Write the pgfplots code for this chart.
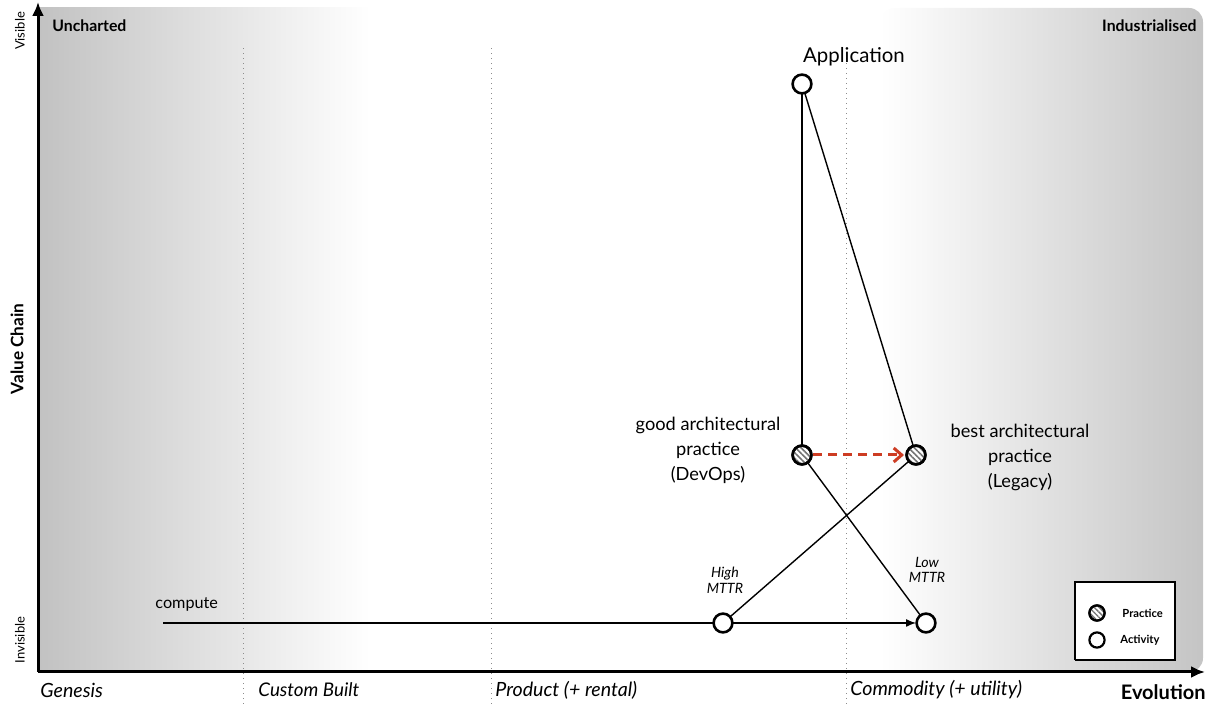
\documentclass[border=0pt]{standalone}
\usepackage{pgfplots}
\pgfplotsset{compat=1.18}
\usepackage{fontspec}
\setmainfont{Lato}
\usetikzlibrary{patterns.meta,arrows.meta}
\definecolor{redc}{RGB}{205,60,35}
\begin{document}
\begin{tikzpicture}
\begin{axis}[
  scale only axis, width=583.5pt, height=335pt,
  xmin=38, xmax=1205, ymin=32, ymax=702,
  axis lines=left,
  axis line style={line width=1.5pt,-{Latex[length=7pt,width=6pt]}},
  xtick=\empty, ytick=\empty, clip=false, axis on top,
]
\path (axis cs:0,0) rectangle (axis cs:1209,704);
% background gradients
\addplot[draw=none, left color=black!24, right color=white, forget plot]
  coordinates {(38,32) (370,32) (370,696) (38,696)};
\addplot[draw=none, left color=white, right color=black!23, rounded corners=7pt, forget plot]
  coordinates {(880,32) (1203,32) (1203,696) (880,696) (880,32)};
% dotted stage separators
\addplot[black!45, dotted, line width=0.5pt, forget plot] coordinates {(243,0) (243,659)};
\addplot[black!45, dotted, line width=0.5pt, forget plot] coordinates {(491,0) (491,659)};
\addplot[black!45, dotted, line width=0.5pt, forget plot] coordinates {(846,0) (846,659)};
% links
\addplot[black, line width=0.7pt] coordinates {(802,620) (802,249)};
\addplot[black, line width=0.7pt] coordinates {(802,620) (916,249)};
\addplot[black, line width=0.7pt] coordinates {(802,249) (926,81)};
\addplot[black, line width=0.7pt] coordinates {(916,249) (723,81)};
\addplot[black, line width=0.7pt, -{Latex[length=5pt,width=4pt]}] coordinates {(163,81) (916,81)};
% red dashed movement
\addplot[redc, line width=1.5pt, dash pattern=on 4.5pt off 3pt, -{Straight Barb[length=4pt,width=7pt]}] coordinates {(813,249) (904,249)};
% legend box
\addplot[fill=white, draw=black, line width=0.7pt] coordinates {(1075,44) (1175,44) (1175,122) (1075,122) (1075,44)};
% activities
\addplot[only marks, mark=*, mark size=4.7pt, mark options={draw=black, line width=1.3pt, fill=white}]
  coordinates {(802,620) (723,81) (926,81)};
% practices
\addplot[only marks, mark=*, mark size=4.7pt, mark options={draw=black, line width=1.3pt, fill=white}]
  coordinates {(802,249) (916,249)};
\addplot[only marks, mark=*, mark size=4.7pt, mark options={draw=black, line width=1.3pt, pattern={Lines[angle=-45,distance=2pt,line width=0.8pt]}, pattern color=black!55}]
  coordinates {(802,249) (916,249)};
% legend marks
\addplot[only marks, mark=*, mark size=3.8pt, mark options={draw=black, line width=1.1pt, fill=white}]
  coordinates {(1097,91) (1097,64)};
\addplot[only marks, mark=*, mark size=3.8pt, mark options={draw=black, line width=1.1pt, pattern={Lines[angle=-45,distance=1.8pt,line width=0.7pt]}, pattern color=black!55}]
  coordinates {(1097,91)};
% texts
\node[font=\fontsize{10.2}{11}\selectfont] at (axis cs:854,647) {Application};
\node[font=\fontsize{9.1}{12.5}\selectfont, align=center] at (axis cs:708,254) {good architectural\\practice\\(DevOps)};
\node[font=\fontsize{9.1}{12.5}\selectfont, align=center] at (axis cs:1020,247) {best architectural\\practice\\(Legacy)};
\node[font=\itshape\fontsize{7.1}{7.8}\selectfont, align=center] at (axis cs:725,124) {High\\MTTR};
\node[font=\itshape\fontsize{7.1}{7.8}\selectfont, align=center] at (axis cs:927,134) {Low\\MTTR};
\node[font=\fontsize{8.1}{10}\selectfont, anchor=west, inner sep=0pt] at (axis cs:155,100) {compute};
\node[font=\bfseries\fontsize{7.9}{9}\selectfont, anchor=west, inner sep=0pt] at (axis cs:52,678) {Uncharted};
\node[font=\bfseries\fontsize{7.9}{9}\selectfont, anchor=east, inner sep=0pt] at (axis cs:1197,678) {Industrialised};
\node[font=\fontsize{6.5}{7}\selectfont, rotate=90, inner sep=0pt] at (axis cs:20,673) {Visible};
\node[font=\fontsize{6.5}{7}\selectfont, rotate=90, inner sep=0pt] at (axis cs:20,64) {Invisible};
\node[font=\bfseries\fontsize{8.6}{10}\selectfont, rotate=90, inner sep=0pt] at (axis cs:17,355) {Value Chain};
\node[font=\itshape\fontsize{9.8}{10}\selectfont, anchor=west, inner sep=0pt] at (axis cs:40,14) {Genesis};
\node[font=\itshape\fontsize{9.4}{10}\selectfont, anchor=west, inner sep=0pt] at (axis cs:258,14) {Custom Built};
\node[font=\itshape\fontsize{9.8}{10}\selectfont, anchor=west, inner sep=0pt] at (axis cs:495,14) {Product (+ rental)};
\node[font=\itshape\fontsize{9.8}{10}\selectfont, anchor=west, inner sep=0pt] at (axis cs:850,14) {Commodity (+ utility)};
\node[font=\bfseries\fontsize{10}{11}\selectfont, anchor=east, inner sep=0pt] at (axis cs:1206,12) {Evolution};
\node[font=\bfseries\fontsize{5.6}{6}\selectfont, anchor=west, inner sep=0pt] at (axis cs:1122,91) {Practice};
\node[font=\bfseries\fontsize{5.6}{6}\selectfont, anchor=west, inner sep=0pt] at (axis cs:1120,64) {Activity};
\end{axis}
\end{tikzpicture}
\end{document}
